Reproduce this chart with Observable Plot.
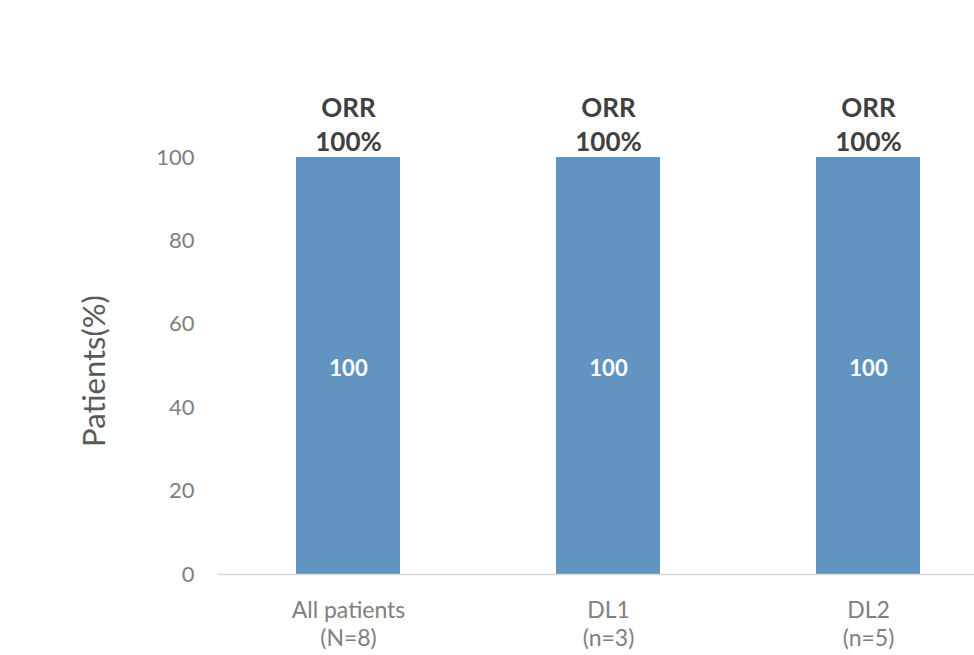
<!DOCTYPE html>
<html>
<head>
<meta charset="utf-8">
<script src="https://cdn.jsdelivr.net/npm/d3@7"></script>
<script src="https://cdn.jsdelivr.net/npm/@observablehq/plot@0.6"></script>
<style>
  html, body { margin: 0; padding: 0; background: #fff; }
  #chart { width: 974px; height: 655px; }
</style>
</head>
<body>
<div id="chart"></div>
<script>
const categories = ["All patients", "DL1", "DL2"];
const subLabels = ["(N=8)", "(n=3)", "(n=5)"];
const values = [100, 100, 100];
const topLabels = ["ORR\n100%", "ORR\n100%", "ORR\n100%"];
const yTicks = [0, 20, 40, 60, 80, 100];
const yLabel = "Patients(%)";

const data = categories.map((c, i) => ({cat: c, sub: subLabels[i], value: values[i], top: topLabels[i]}));
const font = "Lato, 'Open Sans', sans-serif";

const chart = Plot.plot({
  width: 974,
  height: 655,
  marginLeft: 218,
  marginRight: 0,
  marginTop: 157,
  marginBottom: 81,
  style: {fontFamily: font, background: "#fff"},
  x: {domain: categories, range: [218, 998], paddingInner: 0.6, paddingOuter: 0.3, label: null},
  y: {domain: [0, 100], label: null},
  marks: [
    Plot.barY(data, {x: "cat", y: "value", fill: "#6194c0"}),
    Plot.ruleY([0], {stroke: "#d9d9d9", strokeWidth: 1.5}),
    Plot.axisY({ticks: yTicks, tickSize: 0, tickPadding: 24, fontSize: 22, fill: "#808080", label: null}),
    Plot.axisX({tickSize: 0, tickPadding: 23, fontSize: 23, fill: "#808080", lineHeight: 1.24, label: null,
      tickFormat: (d) => d + "\n" + subLabels[categories.indexOf(d)]}),
    Plot.text(data, {x: "cat", y: (d) => d.value / 2, dy: 3, text: (d) => String(d.value), fill: "#fff", fontSize: 22, fontWeight: "bold"}),
    Plot.text(data, {x: "cat", y: "value", text: "top", lineAnchor: "bottom", dy: -7, fill: "#404040", fontSize: 26, fontWeight: "bold", lineHeight: 1.3}),
    Plot.text([yLabel], {frameAnchor: "left", textAnchor: "middle", dx: -123, dy: 5, rotate: -90, fontSize: 31, fill: "#595959", text: (d) => d})
  ]
});
document.getElementById("chart").appendChild(chart);
</script>
</body>
</html>
